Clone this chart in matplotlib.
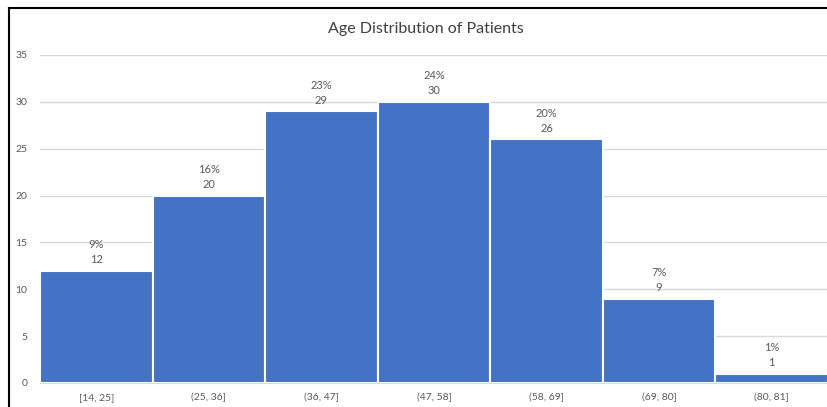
import matplotlib
matplotlib.use('Agg')
import matplotlib.pyplot as plt
import numpy as np

plt.rcParams['font.family'] = ['Lato', 'DejaVu Sans']

# --- data ---
bins = ['[14, 25]', '(25, 36]', '(36, 47]', '(47, 58]', '(58, 69]', '(69, 80]', '(80, 81]']
counts = [12, 20, 29, 30, 26, 9, 1]
yticks = [0, 5, 10, 15, 20, 25, 30, 35]

total = sum(counts)
pcts = [round(c / total * 100) for c in counts]

BAR = '#4472C4'
TXT = '#595959'
GRID = '#D9D9D9'

fig = plt.figure(figsize=(8.28, 4.07), dpi=100)
fig.patch.set_facecolor('white')
ax = fig.add_axes([0.0483, 0.059, 0.9517, 0.806])

x = np.arange(len(bins))
ax.bar(x, counts, width=1.0, color=BAR, edgecolor='white', linewidth=1.5, zorder=3)

for xi, c, p in zip(x, counts, pcts):
    ax.annotate(f'{p}%\n{c}', (xi, c), xytext=(0, 4), textcoords='offset points',
                ha='center', va='bottom', fontsize=8, color=TXT, linespacing=1.45)

ax.set_xlim(-0.5, len(bins) - 0.5)
ax.set_ylim(0, 35)
ax.set_yticks(yticks)
ax.set_xticks(x)
ax.set_xticklabels(bins)
ax.yaxis.grid(True, color=GRID, linewidth=1, zorder=0)
ax.set_axisbelow(True)
ax.tick_params(axis='both', length=0, colors=TXT, labelsize=7.5)
ax.tick_params(axis='y', pad=9)
ax.tick_params(axis='x', pad=7)
for s in ['top', 'right', 'left']:
    ax.spines[s].set_visible(False)
ax.spines['bottom'].set_color(GRID)

fig.text(0.514, 0.928, 'Age Distribution of Patients', ha='center', va='center',
         fontsize=11.5, color='#404040')

# frame lines (top and left edge of the chart area)
fig.add_artist(plt.Line2D([9 / 828, 9 / 828], [0, 1 - 8 / 407], color='black', linewidth=1.5,
                          transform=fig.transFigure))
fig.add_artist(plt.Line2D([9 / 828, 1], [1 - 8 / 407, 1 - 8 / 407], color='black', linewidth=1.5,
                          transform=fig.transFigure))

plt.savefig('out.png', dpi=100, facecolor='white')
plt.close()
